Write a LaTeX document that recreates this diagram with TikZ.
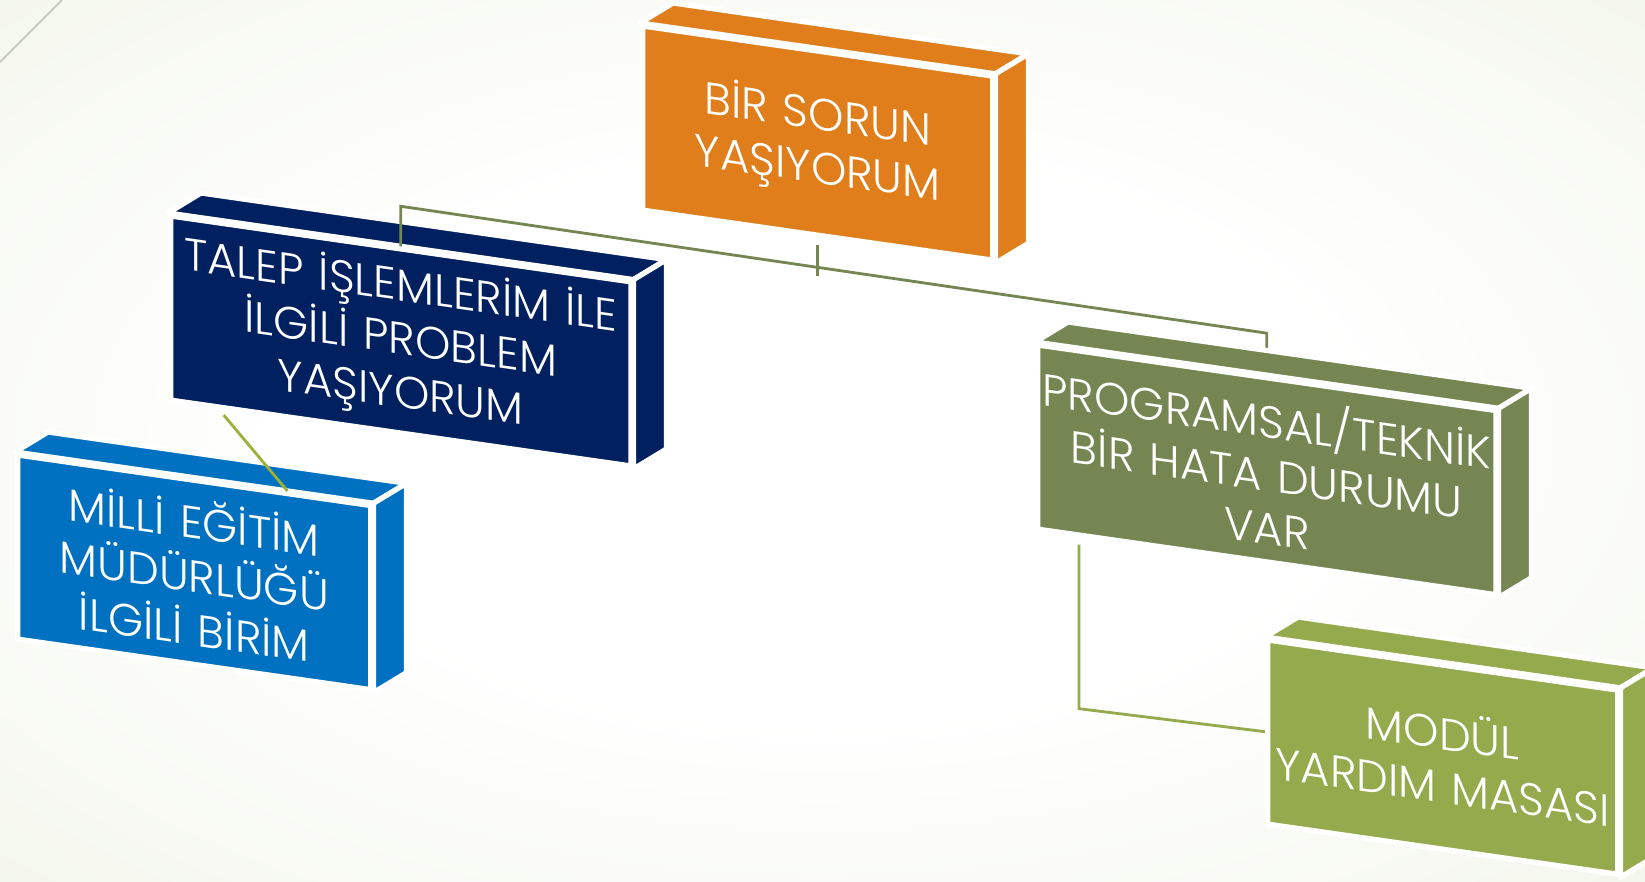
\documentclass[tikz,border=0pt]{standalone}
\usepackage{fontspec}
\IfFontExistsTF{Poppins Light}{\setmainfont{Poppins Light}}{\setmainfont{Poppins}}
\usepackage{tikz}
\usetikzlibrary{calc,backgrounds}
\usepackage{xcolor}
\definecolor{orangebox}{RGB}{223,126,26}
\definecolor{navybox}{RGB}{0,32,96}
\definecolor{bluebox}{RGB}{0,112,192}
\definecolor{olivebox}{RGB}{118,134,82}
\definecolor{limebox}{RGB}{148,170,76}
\definecolor{limeline}{RGB}{155,177,60}
\definecolor{paperedge}{RGB}{236,241,224}
\definecolor{papercorner}{RGB}{226,233,205}
\definecolor{cornerline}{RGB}{200,202,192}
\pgfdeclareradialshading{paper}{\pgfpoint{0bp}{0bp}}{color(0bp)=(white); color(16bp)=(white); color(50bp)=(paperedge); color(72bp)=(papercorner)}
\pgfdeclarelayer{front}
\pgfsetlayers{background,main,front}

\begin{document}
\begin{tikzpicture}[
    x=0.01cm, y=-0.01cm,
    box/.style={rectangle, draw=white, line width=1.5pt, line join=round, inner sep=0pt,
        minimum height=1.84cm, text=white, align=center, transform shape,
        font=\fontsize{12.8}{15.2}\selectfont},
    face/.style={draw=white, line width=1.5pt, line join=round},
    link/.style={line width=0.8pt},
    tilt/.style={yslant=-0.143}
]
    \useasboundingbox (0,0) rectangle (1645,881);
    \begin{scope}[on background layer]
        \shade[shading=paper] (0,0) rectangle (1645,881);
        \draw[cornerline, line width=0.6pt] (0,62) -- (62,0);
    \end{scope}

    % Sorun
    \begin{scope}[shift={(640,23)}, tilt]
        \node[box, fill=orangebox, text width=3.5cm, anchor=north west] (sorun) at (0,0) {BİR SORUN\\YAŞIYORUM};
    \end{scope}

    % Talep
    \begin{scope}[shift={(168,213)}, tilt]
        \node[box, fill=navybox, text width=4.6cm, anchor=north west] (talep) at (0,0) {TALEP İŞLEMLERİM İLE\\İLGİLİ PROBLEM\\YAŞIYORUM};
    \end{scope}

    % Milli Egitim
    \begin{scope}[shift={(15,452)}, tilt]
        \node[box, fill=bluebox, text width=3.53cm, anchor=north west] (milli) at (0,0) {MİLLİ EĞİTİM\\MÜDÜRLÜĞÜ\\İLGİLİ BİRİM};
    \end{scope}

    \foreach \n/\c in {sorun/orangebox, talep/navybox, milli/bluebox} {
        \draw[face, fill=\c] (\n.north west) -- ++(33,-20) -- ([shift={(33,-20)}]\n.north east) -- (\n.north east) -- cycle;
        \draw[face, fill=\c] (\n.north east) -- ++(33,-20) -- ([shift={(33,-20)}]\n.south east) -- (\n.south east) -- cycle;
    }

    \begin{pgfonlayer}{front}
        % Programsal
        \begin{scope}[shift={(1035,342)}, tilt]
            \node[box, fill=olivebox, text width=4.58cm, anchor=north west] (prog) at (0,0) {PROGRAMSAL/TEKNİK\\BİR HATA DURUMU\\VAR};
        \end{scope}

        % Modul
        \begin{scope}[shift={(1265,637)}, tilt]
            \node[box, fill=limebox, text width=3.5cm, anchor=north west] (modul) at (0,0) {MODÜL\\YARDIM MASASI};
        \end{scope}

        \foreach \n/\c in {prog/olivebox, modul/limebox} {
            \draw[face, fill=\c] (\n.north west) -- ++(33,-20) -- ([shift={(33,-20)}]\n.north east) -- (\n.north east) -- cycle;
            \draw[face, fill=\c] (\n.north east) -- ++(33,-20) -- ([shift={(33,-20)}]\n.south east) -- (\n.south east) -- cycle;
        }
    \end{pgfonlayer}

    % Connectors
    \draw[link, olivebox] (talep.north) -- ++(0,-40) -- ($(prog.north)+(0,-42)$) -- (prog.north);
    \draw[link, olivebox, shorten <=2pt] (sorun.south) -- ++(0,38);
    \draw[link, limeline, shorten <=2pt] ($(talep.south west)!0.11!(talep.south east)$) -- ($(milli.north west)!0.76!(milli.north east)$);
    \draw[link, limebox, shorten <=2pt] ($(prog.south west)!0.095!(prog.south east)$) -- ++(0,171) -- (modul.west);
\end{tikzpicture}
\end{document}
